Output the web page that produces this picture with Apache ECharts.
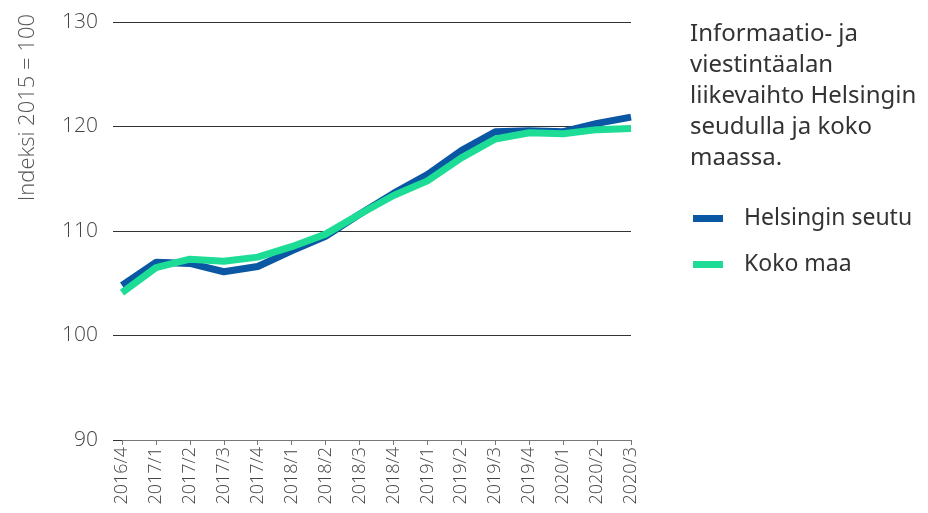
<!DOCTYPE html>
<html>
<head>
<meta charset="utf-8">
<script src="https://cdn.jsdelivr.net/npm/echarts@6/dist/echarts.min.js"></script>
<style>
  html, body { margin: 0; padding: 0; background: #fff; }
  #chart { width: 928px; height: 513px; }
</style>
</head>
<body>
<div id="chart"></div>
<script>
// neljännekset
const quarters = ['2016/4', '2017/1', '2017/2', '2017/3', '2017/4', '2018/1', '2018/2', '2018/3',
  '2018/4', '2019/1', '2019/2', '2019/3', '2019/4', '2020/1', '2020/2', '2020/3'];
const helsinginSeutu = [104.8, 107.0, 106.9, 106.1, 106.6, 108.1, 109.5, 111.6,
  113.6, 115.4, 117.7, 119.5, 119.6, 119.5, 120.3, 120.9];
const kokoMaa = [104.1, 106.5, 107.3, 107.1, 107.5, 108.5, 109.7, 111.6,
  113.4, 114.8, 117.0, 118.8, 119.4, 119.3, 119.7, 119.8];

const fontFamily = '"Open Sans", "Noto Sans", sans-serif';
const chart = echarts.init(document.getElementById('chart'));

const option = {
  animation: false,
  textStyle: { fontFamily: fontFamily },
  title: {
    text: 'Informaatio- ja\nviestintäalan\nliikevaihto Helsingin\nseudulla ja koko\nmaassa.',
    left: 690,
    top: 19,
    padding: 0,
    textStyle: {
      fontFamily: '"Noto Sans", sans-serif',
      fontSize: 24,
      fontWeight: 'normal',
      color: '#333',
      lineHeight: 31
    }
  },
  legend: {
    orient: 'vertical',
    left: 693,
    top: 207,
    padding: 0,
    itemWidth: 30,
    itemHeight: 7,
    itemGap: 23,
    icon: 'rect',
    textStyle: {
      fontFamily: '"Noto Sans", sans-serif',
      fontSize: 23,
      color: '#333',
      padding: [0, 0, 0, 16]
    },
    data: ['Helsingin seutu', 'Koko maa']
  },
  graphic: [{
    type: 'text',
    left: 17,
    top: 14,
    rotation: Math.PI / 2,
    style: {
      text: 'Indeksi 2015 = 100',
      font: '300 22px ' + fontFamily,
      fill: '#555'
    }
  }],
  grid: { left: 122, right: 297, top: 22, bottom: 73, containLabel: false },
  xAxis: {
    type: 'category',
    data: quarters,
    boundaryGap: false,
    axisLine: { lineStyle: { color: '#777', width: 1 } },
    axisTick: { show: true, length: 5, lineStyle: { color: '#777' } },
    axisLabel: {
      rotate: 90,
      margin: 7,
      fontSize: 18,
      fontWeight: 300,
      color: '#444',
      interval: 0
    }
  },
  yAxis: {
    type: 'value',
    min: 90,
    max: 130,
    interval: 10,
    axisLine: { show: false },
    axisTick: { show: true, length: 9, lineStyle: { color: '#333' } },
    axisLabel: {
      margin: 24,
      fontSize: 21,
      fontWeight: 300,
      color: '#444'
    },
    splitLine: { lineStyle: { color: '#333', width: 1 } }
  },
  series: [
    {
      name: 'Helsingin seutu',
      type: 'line',
      data: helsinginSeutu,
      symbol: 'none',
      color: '#0a57a4',
      lineStyle: { width: 7, color: '#0a57a4' }
    },
    {
      name: 'Koko maa',
      type: 'line',
      data: kokoMaa,
      symbol: 'none',
      color: '#1ddc96',
      lineStyle: { width: 7, color: '#1ddc96' }
    }
  ]
};

chart.setOption(option);
</script>
</body>
</html>
